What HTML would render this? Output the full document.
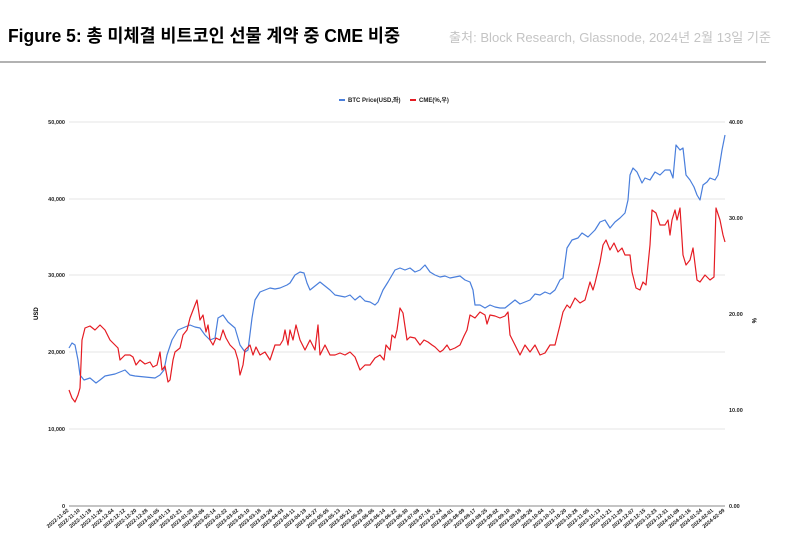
<!DOCTYPE html>
<html><head><meta charset="utf-8"><style>
body{margin:0;width:800px;height:554px;background:#fff;overflow:hidden;font-family:"Liberation Sans","Noto Sans CJK KR",sans-serif}
svg{position:absolute;left:0;top:0}
</style></head><body>
<svg width="800" height="554" viewBox="0 0 800 554" xmlns="http://www.w3.org/2000/svg">
<text x="8" y="42" font-family="Liberation Sans, Noto Sans CJK KR, sans-serif" font-weight="bold" font-size="18" fill="#000" textLength="392" lengthAdjust="spacingAndGlyphs">Figure 5: 총 미체결 비트코인 선물 계약 중 CME 비중</text>
<text x="771" y="42" text-anchor="end" font-family="Liberation Sans, Noto Sans CJK KR, sans-serif" font-size="13" fill="#c4c4c4" textLength="322" lengthAdjust="spacingAndGlyphs">출처: Block Research, Glassnode, 2024년 2월 13일 기준</text>
<line x1="0" y1="62" x2="766" y2="62" stroke="#999" stroke-width="1.5"/>
<g font-family="Liberation Sans, sans-serif" font-size="6" font-weight="bold" fill="#222">
<rect x="339" y="99" width="6" height="2" fill="#4a7fdc"/><text x="348" y="102">BTC Price(USD,좌)</text>
<rect x="410" y="99" width="6" height="2" fill="#e51c23"/><text x="419" y="102">CME(%,우)</text>
</g>
<g stroke="#e4e4e4" stroke-width="1">
<line x1="69" y1="122" x2="725" y2="122"/><line x1="69" y1="199" x2="725" y2="199"/><line x1="69" y1="275" x2="725" y2="275"/><line x1="69" y1="352" x2="725" y2="352"/><line x1="69" y1="429" x2="725" y2="429"/>
</g>
<line x1="69" y1="506" x2="725" y2="506" stroke="#888" stroke-width="1"/>
<g font-family="Liberation Sans, sans-serif" font-size="5.5" font-weight="bold" fill="#222" text-anchor="end">
<text x="65" y="124">50,000</text><text x="65" y="201">40,000</text><text x="65" y="277">30,000</text><text x="65" y="354">20,000</text><text x="65" y="431">10,000</text><text x="65" y="508">0</text>
</g>
<g font-family="Liberation Sans, sans-serif" font-size="5.5" font-weight="bold" fill="#222">
<text x="729" y="124">40.00</text><text x="729" y="220">30.00</text><text x="729" y="316">20.00</text><text x="729" y="412">10.00</text><text x="729" y="508">0.00</text>
</g>
<text x="38" y="320" font-family="Liberation Sans, sans-serif" font-size="6" font-weight="bold" transform="rotate(-90 38 320)">USD</text>
<text x="752" y="318" font-family="Liberation Sans, sans-serif" font-size="6" font-weight="bold" transform="rotate(90 752 318)">%</text>
<polyline fill="none" stroke="#4a7fdc" stroke-width="1.2" stroke-linejoin="round" points="69,348 72,343 75,345 78,360 80,375 84,380 90,378 96,383 100,380 105,376 110,375 115,374 120,372 125,370 130,375 135,376 145,377 155,378 160,375 164,370 167,355 172,340 178,330 185,327 190,325 195,327 200,328 205,335 210,340 215,338 218,318 223,315 228,322 235,328 240,345 245,352 248,350 252,318 255,300 260,292 265,290 270,288 275,289 280,288 287,285 290,283 295,275 300,272 304,273 307,283 310,290 315,286 320,282 325,286 330,290 335,295 340,296 345,297 350,295 355,300 360,296 365,301 370,302 375,305 378,302 383,290 388,282 395,270 400,268 405,270 410,268 415,272 420,270 425,265 430,272 435,275 440,277 445,276 450,278 455,277 460,276 465,280 470,282 473,290 475,305 480,305 485,308 490,305 495,307 500,308 505,308 510,304 515,300 520,304 525,302 530,300 535,294 540,295 545,292 550,294 555,290 560,280 563,278 567,248 572,240 578,238 582,233 588,237 595,230 600,222 605,220 610,228 615,222 620,218 625,213 628,200 630,175 633,168 637,172 642,183 645,178 650,180 655,172 660,175 665,170 670,170 673,178 676,145 680,150 683,148 686,175 690,180 694,187 697,195 700,200 703,185 707,182 710,178 715,180 718,175 722,150 725,135"/>
<polyline fill="none" stroke="#e51c23" stroke-width="1.2" stroke-linejoin="round" points="69,390 72,398 75,402 78,395 80,388 82,340 85,328 90,326 95,330 100,325 105,330 110,340 115,345 118,348 120,360 125,355 130,355 133,357 136,365 140,360 145,364 150,362 153,367 157,365 160,352 162,370 165,366 168,382 170,380 173,360 175,352 180,348 183,335 187,330 190,318 195,305 197,300 200,320 203,315 206,332 208,325 210,340 213,345 216,338 220,340 223,330 226,338 230,345 235,350 238,360 240,375 243,365 245,350 250,345 253,355 256,347 260,355 265,352 270,360 275,345 280,345 283,340 285,330 288,345 290,330 293,340 296,325 300,340 305,350 310,340 315,350 318,325 320,355 325,345 330,355 335,355 340,353 345,355 350,352 355,357 360,370 365,365 370,365 375,358 380,355 384,360 386,345 390,350 392,335 395,338 397,330 400,308 403,313 407,340 410,337 415,338 420,345 424,340 428,342 432,345 435,347 440,352 443,350 447,345 450,350 455,348 460,345 464,336 467,330 470,315 475,318 480,312 485,315 487,324 490,315 495,316 500,318 505,316 508,312 510,335 515,345 520,355 525,345 530,352 535,345 540,355 545,353 550,345 555,345 560,325 563,312 567,305 570,308 575,298 580,303 585,300 590,282 593,290 595,283 600,262 603,245 606,240 610,250 614,243 618,252 622,248 625,255 630,255 632,272 636,288 640,290 643,282 646,285 650,245 652,210 656,213 660,225 665,225 668,220 670,235 672,220 675,210 677,220 680,208 683,255 686,265 690,260 693,248 697,280 700,282 705,275 710,280 714,277 716,208 720,220 723,235 725,242"/>
<g font-family="Liberation Sans, sans-serif" font-size="5.3" font-weight="bold" fill="#222" text-anchor="end">
<text transform="translate(69.0,511) rotate(-40)">2022-11-02</text>
<text transform="translate(80.3,511) rotate(-40)">2022-11-10</text>
<text transform="translate(91.6,511) rotate(-40)">2022-11-18</text>
<text transform="translate(102.9,511) rotate(-40)">2022-11-26</text>
<text transform="translate(114.2,511) rotate(-40)">2022-12-04</text>
<text transform="translate(125.6,511) rotate(-40)">2022-12-12</text>
<text transform="translate(136.9,511) rotate(-40)">2022-12-20</text>
<text transform="translate(148.2,511) rotate(-40)">2022-12-28</text>
<text transform="translate(159.5,511) rotate(-40)">2023-01-05</text>
<text transform="translate(170.8,511) rotate(-40)">2023-01-13</text>
<text transform="translate(182.1,511) rotate(-40)">2023-01-21</text>
<text transform="translate(193.4,511) rotate(-40)">2023-01-29</text>
<text transform="translate(204.7,511) rotate(-40)">2023-02-06</text>
<text transform="translate(216.0,511) rotate(-40)">2023-02-14</text>
<text transform="translate(227.3,511) rotate(-40)">2023-02-22</text>
<text transform="translate(238.7,511) rotate(-40)">2023-03-02</text>
<text transform="translate(250.0,511) rotate(-40)">2023-03-10</text>
<text transform="translate(261.3,511) rotate(-40)">2023-03-18</text>
<text transform="translate(272.6,511) rotate(-40)">2023-03-26</text>
<text transform="translate(283.9,511) rotate(-40)">2023-04-03</text>
<text transform="translate(295.2,511) rotate(-40)">2023-04-11</text>
<text transform="translate(306.5,511) rotate(-40)">2023-04-19</text>
<text transform="translate(317.8,511) rotate(-40)">2023-04-27</text>
<text transform="translate(329.1,511) rotate(-40)">2023-05-05</text>
<text transform="translate(340.4,511) rotate(-40)">2023-05-13</text>
<text transform="translate(351.8,511) rotate(-40)">2023-05-21</text>
<text transform="translate(363.1,511) rotate(-40)">2023-05-29</text>
<text transform="translate(374.4,511) rotate(-40)">2023-06-06</text>
<text transform="translate(385.7,511) rotate(-40)">2023-06-14</text>
<text transform="translate(397.0,511) rotate(-40)">2023-06-22</text>
<text transform="translate(408.3,511) rotate(-40)">2023-06-30</text>
<text transform="translate(419.6,511) rotate(-40)">2023-07-08</text>
<text transform="translate(430.9,511) rotate(-40)">2023-07-16</text>
<text transform="translate(442.2,511) rotate(-40)">2023-07-24</text>
<text transform="translate(453.5,511) rotate(-40)">2023-08-01</text>
<text transform="translate(464.9,511) rotate(-40)">2023-08-09</text>
<text transform="translate(476.2,511) rotate(-40)">2023-08-17</text>
<text transform="translate(487.5,511) rotate(-40)">2023-08-25</text>
<text transform="translate(498.8,511) rotate(-40)">2023-09-02</text>
<text transform="translate(510.1,511) rotate(-40)">2023-09-10</text>
<text transform="translate(521.4,511) rotate(-40)">2023-09-18</text>
<text transform="translate(532.7,511) rotate(-40)">2023-09-26</text>
<text transform="translate(544.0,511) rotate(-40)">2023-10-04</text>
<text transform="translate(555.3,511) rotate(-40)">2023-10-12</text>
<text transform="translate(566.6,511) rotate(-40)">2023-10-20</text>
<text transform="translate(578.0,511) rotate(-40)">2023-10-28</text>
<text transform="translate(589.3,511) rotate(-40)">2023-11-05</text>
<text transform="translate(600.6,511) rotate(-40)">2023-11-13</text>
<text transform="translate(611.9,511) rotate(-40)">2023-11-21</text>
<text transform="translate(623.2,511) rotate(-40)">2023-11-29</text>
<text transform="translate(634.5,511) rotate(-40)">2023-12-07</text>
<text transform="translate(645.8,511) rotate(-40)">2023-12-15</text>
<text transform="translate(657.1,511) rotate(-40)">2023-12-23</text>
<text transform="translate(668.4,511) rotate(-40)">2023-12-31</text>
<text transform="translate(679.7,511) rotate(-40)">2024-01-08</text>
<text transform="translate(691.1,511) rotate(-40)">2024-01-16</text>
<text transform="translate(702.4,511) rotate(-40)">2024-01-24</text>
<text transform="translate(713.7,511) rotate(-40)">2024-02-01</text>
<text transform="translate(725.0,511) rotate(-40)">2024-02-09</text>
</g>
</svg>
</body></html>
